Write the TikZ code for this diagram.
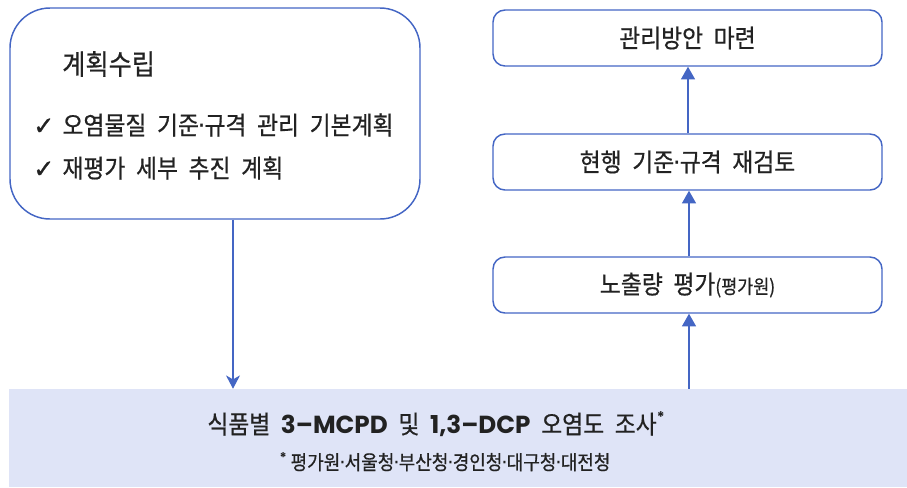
\documentclass[tikz,border=0pt]{standalone}
\usepackage{fontspec}
\setmainfont{Noto Sans CJK KR}[FakeStretch=0.9,FakeBold=0.6]
\newfontfamily\symf{DejaVu Sans}[FakeBold=1]
\newfontfamily\latf{Poppins}
\newfontfamily\dotf{DejaVu Sans}
\newcommand{\md}{\kern-0.05em{\dotf ·}\kern-0.05em}
\newcommand{\bigset}{\fontsize{19}{22}\selectfont\spaceskip=0.42em plus 0.1em\relax}
\newcommand{\titleset}{\fontsize{21}{24}\selectfont\spaceskip=0.42em plus 0.1em\relax}
\newcommand{\noteset}{\fontsize{15}{17}\selectfont\spaceskip=0.42em plus 0.1em\relax}
\usetikzlibrary{arrows.meta}
\definecolor{lineblue}{HTML}{4466C4}
\definecolor{fillbg}{HTML}{DFE4F7}
\definecolor{txt}{HTML}{222222}
\tikzset{
  px/.style={x=0.75pt,y=-0.75pt},
  bigbox/.style={draw=lineblue,line width=1.1pt,rounded corners=30pt,minimum width=307.5pt,minimum height=158.25pt},
  stepbox/.style={draw=lineblue,line width=1.1pt,rounded corners=9pt,minimum width=291.75pt,minimum height=42pt,font=\bigset,text=txt},
  conn/.style={draw=lineblue,line width=1.1pt},
  uparrow/.style={conn,-{Triangle[width=10.5pt,length=9.5pt]}},
  downarrow/.style={conn,-{Stealth[width=10.5pt,length=10pt,inset=3pt]}},
  lbl/.style={anchor=west,inner sep=0pt,text=txt,font=\bigset},
}
\begin{document}
\begin{tikzpicture}[px]
\useasboundingbox (0,0) rectangle (907,487);
\node[fill=fillbg,minimum width=673.5pt,minimum height=73.5pt,inner sep=0pt] (survey) at (458,438) {};
\node[inner sep=0pt,text=txt,font=\bigset] (surveytxt) at (436,424)
  {식품별 {\latf\bfseries\fontsize{18.5}{20}\selectfont 3–MCPD} 및 {\latf\bfseries\fontsize{18.5}{20}\selectfont 1,3–DCP} 오염도 조사\raisebox{0.45em}{\latf\bfseries\fontsize{11}{12}\selectfont *}};
\node[inner sep=0pt,text=txt,font=\noteset] (surveynote) at (445,462)
  {\raisebox{0.35em}{\latf\bfseries\fontsize{10}{11}\selectfont *}\hspace{3pt}평가원\md 서울청\md 부산청\md 경인청\md 대구청\md 대전청};
\node[bigbox] (plan) at (215,113.5) {};
\node[lbl,font=\titleset] (plantitle) at (62,64) {계획수립};
\node[lbl] (item1) at (33,125) {{\symf ✓}\hspace{6pt}오염물질 기준\md 규격 관리 기본계획};
\node[lbl] (item2) at (33,168) {{\symf ✓}\hspace{6pt}재평가 세부 추진 계획};
\node[stepbox] (manage) at (687.5,38) {관리방안 마련};
\node[stepbox] (review) at (687.5,162) {현행 기준\md 규격 재검토};
\node[stepbox] (expo) at (687.5,285) {노출량 평가{\fontsize{14.5}{16}\selectfont (평가원)}};
\draw[downarrow] (plan.south -| 233,0) -- (survey.north -| 233,0);
\draw[uparrow] (survey.north -| 689,0) -- (expo.south -| 689,0);
\draw[uparrow] (expo.north -| 689,0) -- (review.south -| 689,0);
\draw[uparrow] (review.north -| 688,0) -- (manage.south -| 688,0);
\end{tikzpicture}
\end{document}
